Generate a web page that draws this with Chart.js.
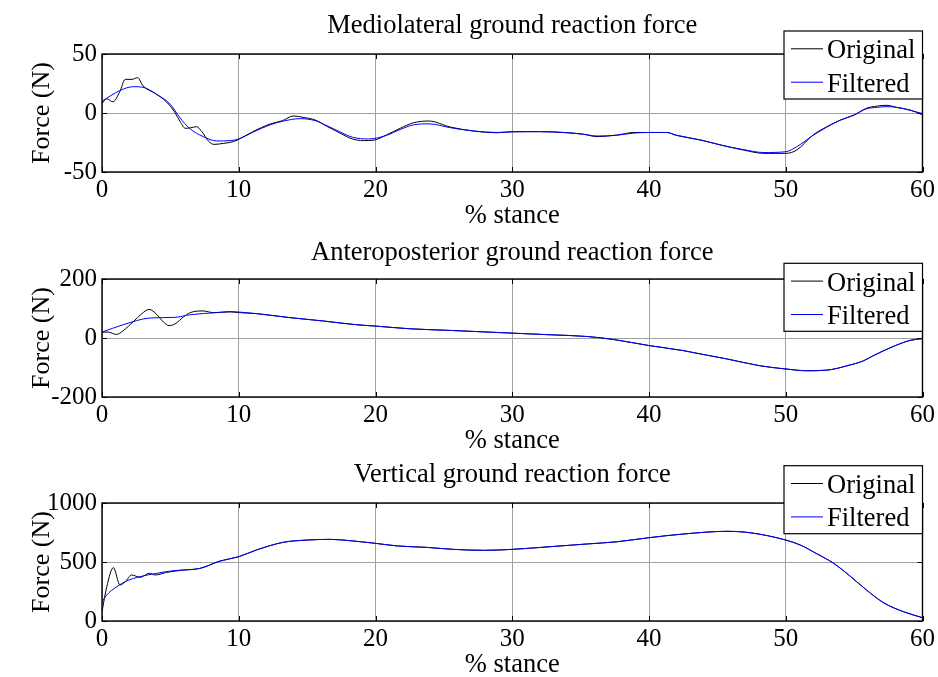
<!DOCTYPE html>
<html><head><meta charset="utf-8">
<script src="https://cdn.jsdelivr.net/npm/chart.js@4.4.0/dist/chart.umd.min.js"></script>
<style>
html,body{margin:0;padding:0;background:#fff;overflow:hidden;width:938px;height:677px;position:relative;}
canvas{position:absolute;left:0;}
</style></head><body>
<canvas id="c1" width="938" height="240" style="top:0px"></canvas>
<canvas id="c2" width="938" height="240" style="top:225px"></canvas>
<canvas id="c3" width="938" height="240" style="top:449px"></canvas>
<script>
// ---------- data ----------
const titles = ['Mediolateral ground reaction force','Anteroposterior ground reaction force','Vertical ground reaction force'];
const seriesLabels = ['Original','Filtered'];
const xTitle = '% stance';
const yTitle = 'Force (N)';

const mlOrigX = [0,0.35,0.8,1.3,1.7,2.2,2.6,3.0,3.9,4.7,5.3,5.7,6.1,6.5,6.9,7.3,7.8,8.2,8.9,9.6,10,11,12.3,13.2,14,14.7,15.6,16.4,17.4,18.3,19.1,19.9,20.8,21.8,22.8,23.9,25.5,27.2,28.9,30,32,34,35.2,36.2,37.7,38.9,40,41.3,42,43.8,45.2,46.9,48.4,50,50.8,52,53,54,55,55.9,56.7,57.4,58.1,59.1,60];
const mlOrigY = [8,12,9.5,18,28.5,28.5,30,23,16.5,9.5,1,-7,-13,-12.5,-11.6,-15.8,-24,-26.6,-25.7,-24.3,-22.3,-16,-9.3,-6.5,-2.5,-3.7,-6,-11,-17,-22,-23.4,-23,-18.6,-13,-8.2,-6.8,-12,-15.3,-16.7,-15.8,-15.8,-16.7,-18,-20,-18.6,-16.5,-16.5,-16.5,-19,-23,-27,-31.4,-34.2,-34.2,-31.4,-18.6,-11.6,-6,-1.7,4,5.9,6.5,4.8,2.5,-1.5];
const mlFiltX = [0,1.3,2.3,3.0,4.0,5.0,5.7,6.4,7.4,8.4,9.4,10,11,12.3,13.2,14.5,15.6,16.4,17.4,18.3,19.5,20.8,21.8,22.8,23.9,25.5,27.2,28.9,30,32,34,35.2,36.2,37.7,38.9,40,41.3,42,43.8,45.2,46.9,48.4,50,50.8,52,53,54,55,55.9,56.7,57.4,58.1,59.1,60];
const mlFiltY = [10,19,22.3,21.8,15.8,7.3,-4,-13,-20,-23.7,-23.4,-22,-16.5,-10,-7,-4.8,-6.5,-10.5,-16,-20.5,-22,-19,-14,-10,-9.2,-12.5,-15.3,-16.5,-16,-15.8,-16.7,-18,-19.5,-18.8,-17,-16.5,-16.5,-18.8,-22.9,-27,-31,-33.5,-32.8,-28.6,-19,-12,-6,-1.7,3.5,4.8,5.4,4.8,2.3,-0.5];

const apOrigX = [0,0.45,1.05,1.55,2.3,2.9,3.45,4.0,4.5,4.9,5.35,5.95,6.45,7.4,8.15,9.35,10,11.3,13.75,16.2,18.6,20,22.5,25.5,30,32.8,35.5,37.4,40,42.5,43.75,45.7,48.1,50,51.55,53,54.5,55.7,56.4,57.9,59.1,60];
const apOrigY = [20,20,12,25,56,82,97,80,54,42,48,71,86,91.7,86,88.5,86,82.6,69,57.6,45,40.4,31.3,25.6,16.5,10.9,5,-5,-25.6,-42.7,-54,-71,-94,-105,-111,-109,-94,-77,-60,-28,-8,-2];
const apFiltX = [0,1.55,3.5,5.35,6.45,8.4,9.35,10,11.3,13.75,16.2,18.6,20,22.5,25.5,30,32.8,35.5,37.4,40,42.5,43.75,45.7,48.1,50,51.55,53,54.5,55.7,56.4,57.9,59.1,60];
const apFiltY = [20,45,67.7,70,79,86,89.5,88,82.6,69,57.6,45,40.4,31.3,25.6,16.5,10.9,5,-5,-25.6,-42.7,-54,-71,-94,-105,-111,-109,-94,-77,-60,-28,-8,-2];

const vtOrigX = [0,0.35,0.83,1.32,1.7,2.17,2.78,3.46,3.88,4.73,5.95,7.17,8.63,10,11.3,13.26,15,16.7,18.1,20,21.6,23.75,25.7,27.9,30,32.8,35.5,37.7,40,42.5,45.7,47.4,50,51.06,52.3,53.5,54.7,55.9,57.15,58.6,60];
const vtOrigY = [80,290,452,305,333,390,370,404,390,412,432,446,508,545,602,667,686,692,681,658,636,624,607,599,607,630,653,672,706,737,760,748,686,644,568,489,381,263,155,79,28];
const vtFiltX = [0,0.34,1.07,1.8,2.78,4.0,5.2,7.17,8.63,10,11.3,13.26,15,16.7,18.1,20,21.6,23.75,25.7,27.9,30,32.8,35.5,37.7,40,42.5,45.7,47.4,50,51.06,52.3,53.5,54.7,55.9,57.15,58.6,60];
const vtFiltY = [164,220,290,339,376,404,426,446,508,545,602,667,686,692,681,658,636,624,607,599,607,630,653,672,706,737,760,748,686,644,568,489,381,263,155,79,28];

const xTicks = [0,10,20,30,40,50,60];
const yTicksML = [-50,0,50];
const yTicksAP = [-200,0,200];
const yTicksVT = [0,500,1000];

// ---------- rendering ----------
const FONT = "'Liberation Serif','Times New Roman',serif";
function pts(xs, ys){ return xs.map((x,i)=>({x:x, y:ys[i]})); }

const deco = {
  id:'deco',
  afterDatasetsDraw(chart, args, o){
    const ctx = chart.ctx, a = chart.chartArea, xs = chart.scales.x, ys = chart.scales.y;
    ctx.save();
    ctx.strokeStyle = '#000'; ctx.lineWidth = 1;
    ctx.beginPath();
    xs.ticks.forEach(t=>{
      const px = Math.round(xs.getPixelForValue(t.value)) + 0.5;
      ctx.moveTo(px, a.bottom); ctx.lineTo(px, a.bottom - 5);
      ctx.moveTo(px, a.top); ctx.lineTo(px, a.top + 5);
    });
    ys.ticks.forEach(t=>{
      const py = Math.round(ys.getPixelForValue(t.value)) + 0.5;
      ctx.moveTo(a.left, py); ctx.lineTo(a.left + 5, py);
      ctx.moveTo(a.right, py); ctx.lineTo(a.right - 5, py);
    });
    ctx.stroke();
    ctx.lineWidth = 1.4;
    ctx.strokeRect(a.left, a.top, a.right - a.left, a.bottom - a.top);
    // legend
    const W = 138.5, H = 68;
    const L = a.right - W, T = a.top + o.legendDy;
    ctx.fillStyle = '#fff';
    ctx.fillRect(L, T, W, H);
    ctx.lineWidth = 1.2; ctx.strokeStyle = '#000';
    ctx.strokeRect(L, T, W, H);
    ctx.font = '26.5px ' + FONT;
    ctx.textAlign = 'left'; ctx.textBaseline = 'alphabetic';
    const rows = [17.3, 50.7], bases = [27.3, 60.7];
    chart.data.datasets.slice().sort((p,q)=>p.legendIndex-q.legendIndex).forEach((ds,i)=>{
      ctx.strokeStyle = ds.borderColor; ctx.lineWidth = 1;
      ctx.beginPath(); ctx.moveTo(L + 7, T + rows[i] + 0.5); ctx.lineTo(L + 39, T + rows[i] + 0.5); ctx.stroke();
      ctx.fillStyle = '#000';
      ctx.fillText(ds.label, L + 43, T + bases[i]);
    });
    // title
    ctx.textAlign = 'center';
    ctx.fillText(o.title, (a.left + a.right) / 2, o.titleBase);
    ctx.restore();
  }
};

function make(id, title, oX, oY, fX, fY, yT, legendDy, titleBase){
  return new Chart(document.getElementById(id), {
    type:'line',
    data:{ datasets:[
      { label: seriesLabels[0], legendIndex:0, order:1, data: pts(oX,oY), borderColor:'#000000', borderWidth:1, pointRadius:0, cubicInterpolationMode:'monotone', fill:false },
      { label: seriesLabels[1], legendIndex:1, order:0, data: pts(fX,fY), borderColor:'#0000ff', borderWidth:1, pointRadius:0, cubicInterpolationMode:'monotone', fill:false }
    ]},
    options:{
      responsive:false, animation:false, devicePixelRatio:1,
      layout:{ padding:{ top:54, left:0, right:15.5, bottom:0 } },
      plugins:{ legend:{display:false}, title:{display:false}, tooltip:{enabled:false},
        deco:{ title: title, legendDy: legendDy, titleBase: titleBase } },
      scales:{
        x:{ type:'linear', min:xTicks[0], max:xTicks[xTicks.length-1],
          afterBuildTicks: s => { s.ticks = xTicks.map(v=>({value:v})); },
          afterFit: s => { s.height = 68; },
          grid:{ color:'#a0a0a0', lineWidth:1, drawTicks:false },
          border:{ display:false },
          ticks:{ color:'#000', font:{family:FONT, size:25}, padding:3, maxRotation:0, autoSkip:false, callback: v => String(v) },
          title:{ display:true, text:xTitle, color:'#000', font:{family:FONT, size:26.5}, padding:{top:0, bottom:8.4} }
        },
        y:{ type:'linear', min:yT[0], max:yT[yT.length-1],
          afterBuildTicks: s => { s.ticks = yT.map(v=>({value:v})); },
          afterFit: s => { s.width = 102; },
          grid:{ color:'#a0a0a0', lineWidth:1, drawTicks:false },
          border:{ display:false },
          ticks:{ color:'#000', font:{family:FONT, size:25}, padding:5, autoSkip:false, callback: v => String(v) },
          title:{ display:true, text:yTitle, color:'#000', font:{family:FONT, size:26}, padding:{top:26.4, bottom:0} }
        }
      }
    },
    plugins:[deco]
  });
}

make('c1', titles[0], mlOrigX, mlOrigY, mlFiltX, mlFiltY, yTicksML, -23, 33.3);
make('c2', titles[1], apOrigX, apOrigY, apFiltX, apFiltY, yTicksAP, -15.7, 35);
make('c3', titles[2], vtOrigX, vtOrigY, vtFiltX, vtFiltY, yTicksVT, -37.3, 32.5);
</script>
</body></html>
